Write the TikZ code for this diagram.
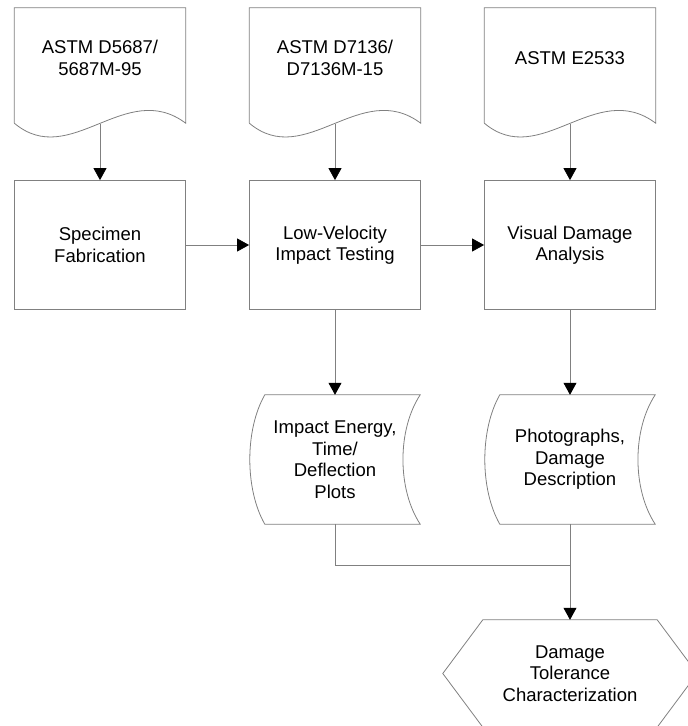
\documentclass[tikz,border=0pt]{standalone}
\usepackage{fontspec}
\setmainfont{Liberation Sans}
\usetikzlibrary{arrows.meta,calc}
\definecolor{linegray}{HTML}{808080}

\begin{document}
\begin{tikzpicture}[x=1pt,y=-1pt,
  every node/.style={font=\fontsize{18.5}{21.5}\selectfont, align=center, inner sep=0pt},
  stdbox/.style={minimum width=171pt, minimum height=100pt},
  stepbox/.style={draw=linegray, line width=.8pt, minimum width=171pt, minimum height=129pt},
  databox/.style={minimum width=170pt, minimum height=129pt},
  goalbox/.style={minimum width=174pt, minimum height=107pt},
  outline/.style={draw=linegray, line width=.8pt},
  flow/.style={draw=linegray, line width=.8pt, -{Triangle[length=12pt,width=13pt,black]}}]
        \useasboundingbox (0,0) rectangle (688,726);
        % standards
        \node[stdbox] (astm1) at (100,58) {ASTM D5687/\\5687M-95};
        \node[stdbox] (astm2) at (335,58) {ASTM D7136/\\D7136M-15};
        \node[stdbox] (astm3) at (570,58) {ASTM E2533};
        % process steps
        \node[stepbox] (fab) at (100,245) {Specimen\\Fabrication};
        \node[stepbox] (impact) at (335,245) {Low-Velocity\\Impact Testing};
        \node[stepbox] (visual) at (570,245) {Visual Damage\\Analysis};
        % results
        \node[databox] (plots) at (335,459.5) {Impact Energy,\\Time/\\Deflection\\Plots};
        \node[databox] (photos) at (570,459.5) {Photographs,\\Damage\\Description};
        \node[goalbox] (dtc) at (570,673.5) {Damage\\Tolerance\\Characterization};
        % outlines
        \foreach \d in {astm1,astm2,astm3}
        \draw[outline] ($(\d.south west)+(0,15)$) -- (\d.north west) -- (\d.north east) -- ($(\d.south east)+(0,15)$)
              .. controls ($(\d.south east)+(-60,-30)$) and ($(\d.south west)+(56,62)$) .. ($(\d.south west)+(0,15)$);
        \foreach \d in {plots,photos}
        \draw[outline] ($(\d.north west)+(15,0)$) -- (\d.north east)
              .. controls ($(\d.north east)+(-23,35)$) and ($(\d.south east)+(-23,-35)$) .. (\d.south east)
              -- ($(\d.south west)+(15,0)$)
              .. controls ($(\d.south west)+(-5,-35)$) and ($(\d.north west)+(-5,35)$) .. cycle;
        \draw[outline] (dtc.north west) -- (dtc.north east) -- ($(dtc.east)+(40,0)$) -- (dtc.south east)
              -- (dtc.south west) -- ($(dtc.west)+(-40,0)$) -- cycle;
        % connectors
        \foreach \d/\s in {astm1/fab,astm2/impact,astm3/visual}
        {
        \coordinate (\d-wave) at ($(\d.south)+(0,16)$);
        \draw[flow] (\d-wave) -- (\s);
        }
        \draw[flow] (fab) -- (impact);
        \draw[flow] (impact) -- (visual);
        \draw[flow] (impact) -- (plots);
        \draw[flow] (visual) -- (photos);
        \coordinate (merge) at ($(photos.south)+(0,41)$);
        \draw[outline] (plots.south) |- (merge);
        \draw[flow] (photos) -- (dtc);
\end{tikzpicture}
\end{document}
